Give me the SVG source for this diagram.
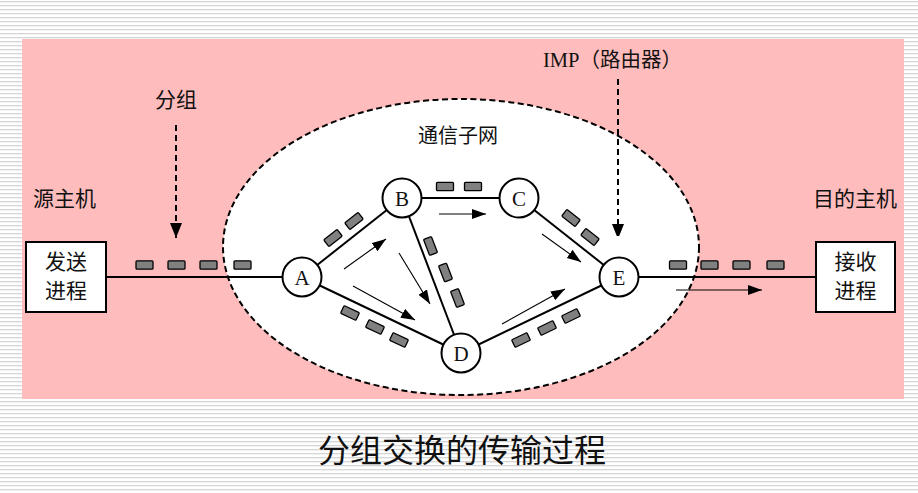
<svg xmlns="http://www.w3.org/2000/svg" width="918" height="493" viewBox="0 0 918 493">
<defs>
<pattern id="stripes" width="8" height="4" patternUnits="userSpaceOnUse">
<rect width="8" height="4" fill="#ffffff"/>
<rect y="1" width="8" height="1.3" fill="#d6d6d6"/>
</pattern>
<marker id="ah" markerUnits="userSpaceOnUse" markerWidth="15" markerHeight="11" refX="14" refY="5" orient="auto">
<path d="M0,0 L14,5 L0,10 z" fill="#000"/>
</marker>
<marker id="dah" markerUnits="userSpaceOnUse" markerWidth="12" markerHeight="16" refX="15" refY="6" orient="auto">
<path d="M0,0 L15,6 L0,12 z" fill="#000"/>
</marker>
<rect id="pk" x="-8.5" y="-4.2" width="17" height="8.4" rx="1"/>
</defs>
<style>
.cjk{font-family:"Noto Sans CJK SC","Noto Sans CJK TC",sans-serif;fill:#111;}
.lat{font-family:"Liberation Serif","Noto Sans CJK SC",serif;fill:#111;}
.edge{stroke:#000;stroke-width:2;fill:none;}
.thin{stroke:#000;stroke-width:1.1;fill:none;marker-end:url(#ah);}
.dash{stroke:#000;stroke-width:2;stroke-dasharray:6,4;fill:none;}
.node circle{fill:#fff;stroke:#000;stroke-width:2;}
.pk use{fill:#808080;stroke:#000;stroke-width:1.3;}
.box{fill:#fff;stroke:#000;stroke-width:2;}
</style>
<rect width="918" height="493" fill="url(#stripes)"/>
<rect x="22" y="39" width="882" height="360" fill="#ffbcbc"/>
<g id="subnet">
<ellipse cx="461" cy="247" rx="238" ry="148" fill="#fff" stroke="#000" stroke-width="2" stroke-dasharray="6,3.5"/>
<text class="cjk" x="458" y="143" font-size="20" text-anchor="middle">通信子网</text>
</g>
<g id="connectors">
<line class="edge" x1="106" y1="277" x2="283" y2="277"/>
<line class="edge" x1="638" y1="277" x2="816" y2="277"/>
<line class="edge" x1="302" y1="277" x2="402" y2="198"/>
<line class="edge" x1="302" y1="277" x2="461" y2="353"/>
<line class="edge" x1="402" y1="198" x2="519" y2="198"/>
<line class="edge" x1="402" y1="198" x2="461" y2="353"/>
<line class="edge" x1="519" y1="198" x2="619" y2="277"/>
<line class="edge" x1="461" y1="353" x2="619" y2="277"/>
<line class="thin" x1="344" y1="269" x2="386" y2="239"/>
<line class="thin" x1="353" y1="286" x2="415" y2="320"/>
<line class="thin" x1="399" y1="253" x2="430" y2="304"/>
<line class="thin" x1="439" y1="214" x2="486" y2="214"/>
<line class="thin" x1="542" y1="234" x2="581" y2="262"/>
<line class="thin" x1="502" y1="324" x2="565" y2="289"/>
<line class="thin" x1="676" y1="290" x2="762" y2="290"/>
<line class="dash" x1="176" y1="125" x2="176" y2="238" marker-end="url(#dah)"/>
<line class="dash" x1="618" y1="79" x2="618" y2="239" marker-end="url(#dah)"/>
</g>
<g id="packets" class="pk">
<use href="#pk" transform="translate(144.5,265)"/>
<use href="#pk" transform="translate(176.5,265)"/>
<use href="#pk" transform="translate(208.5,265)"/>
<use href="#pk" transform="translate(242.5,265)"/>
<use href="#pk" transform="translate(678,265)"/>
<use href="#pk" transform="translate(709.5,265)"/>
<use href="#pk" transform="translate(741.5,265)"/>
<use href="#pk" transform="translate(775.5,265)"/>
<use href="#pk" transform="translate(333,238) rotate(-38.3)"/>
<use href="#pk" transform="translate(354,221) rotate(-38.3)"/>
<use href="#pk" transform="translate(350,313) rotate(25.5)"/>
<use href="#pk" transform="translate(375,327) rotate(25.5)"/>
<use href="#pk" transform="translate(399,340) rotate(25.5)"/>
<use href="#pk" transform="translate(445,186.5)"/>
<use href="#pk" transform="translate(473,186.5)"/>
<use href="#pk" transform="translate(430.5,246) rotate(69)"/>
<use href="#pk" transform="translate(445.5,272.5) rotate(69)"/>
<use href="#pk" transform="translate(457.5,298) rotate(69)"/>
<use href="#pk" transform="translate(571,218) rotate(38.3)"/>
<use href="#pk" transform="translate(590,237) rotate(38.3)"/>
<use href="#pk" transform="translate(521,340) rotate(-25.7)"/>
<use href="#pk" transform="translate(547,328) rotate(-25.7)"/>
<use href="#pk" transform="translate(571,316) rotate(-25.7)"/>
</g>
<g id="node-A" class="node"><circle cx="302" cy="277" r="19.5"/><text class="lat" x="302" y="284.5" font-size="21" text-anchor="middle">A</text></g>
<g id="node-B" class="node"><circle cx="402" cy="198" r="19.5"/><text class="lat" x="402" y="205.5" font-size="21" text-anchor="middle">B</text></g>
<g id="node-C" class="node"><circle cx="519" cy="198" r="19.5"/><text class="lat" x="519" y="205.5" font-size="21" text-anchor="middle">C</text></g>
<g id="node-D" class="node"><circle cx="461" cy="353" r="19.5"/><text class="lat" x="461" y="360.5" font-size="21" text-anchor="middle">D</text></g>
<g id="node-E" class="node"><circle cx="619" cy="277" r="19.5"/><text class="lat" x="619" y="284.5" font-size="21" text-anchor="middle">E</text></g>
<g id="sender">
<rect class="box" x="26" y="242" width="80" height="70"/>
<text class="cjk" x="66" y="269" font-size="21" text-anchor="middle">发送</text>
<text class="cjk" x="66" y="298" font-size="21" text-anchor="middle">进程</text>
</g>
<g id="receiver">
<rect class="box" x="816" y="242" width="79" height="70"/>
<text class="cjk" x="855.5" y="269" font-size="21" text-anchor="middle">接收</text>
<text class="cjk" x="855.5" y="298" font-size="21" text-anchor="middle">进程</text>
</g>
<g id="labels">
<text class="cjk" x="33" y="206" font-size="21">源主机</text>
<text class="cjk" x="155" y="107" font-size="21">分组</text>
<text class="cjk" x="813" y="206" font-size="21">目的主机</text>
<text x="543" y="67" font-size="20.5"><tspan class="lat">IMP</tspan><tspan class="cjk">（路由器）</tspan></text>
<text class="cjk" x="462" y="462" font-size="32" text-anchor="middle">分组交换的传输过程</text>
</g>
</svg>
